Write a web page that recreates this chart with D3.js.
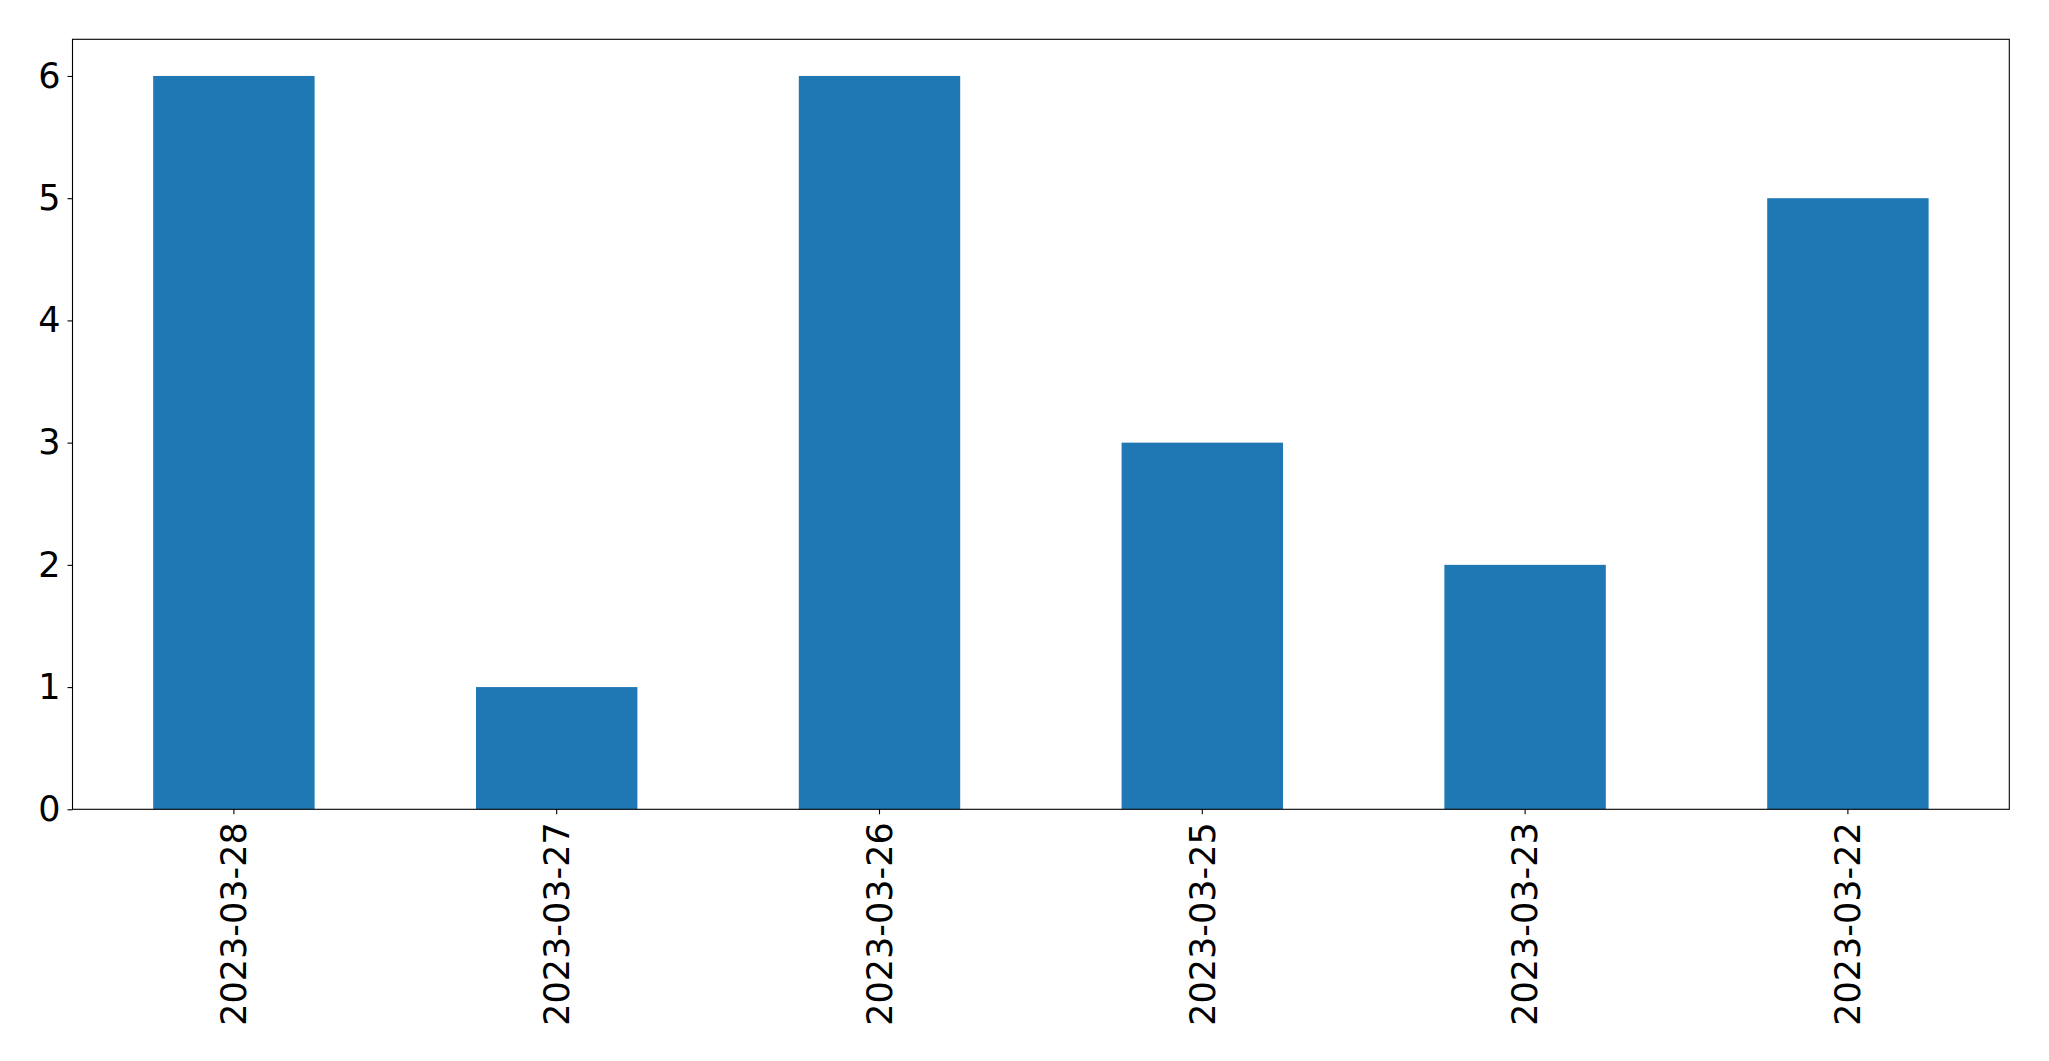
<!DOCTYPE html>
<html>
<head>
<meta charset="utf-8">
<script src="https://cdn.jsdelivr.net/npm/d3@7"></script>
<style>
html,body{margin:0;padding:0;background:#fff;}
svg{display:block;}
</style>
</head>
<body>
<svg id="chart" width="2049" height="1061"></svg>
<script>
const categories = ["2023-03-28","2023-03-27","2023-03-26","2023-03-25","2023-03-23","2023-03-22"];
const values = [6,1,6,3,2,5];
const yTicks = [0,1,2,3,4,5,6];

const margin = {left:72.5, top:39.3, right:2049-2009.3, bottom:1061-809.3};
const W = 2049, H = 1061;
const svg = d3.select("#chart");
const x = d3.scaleBand().domain(categories).range([margin.left, W-margin.right]).paddingInner(0.5).paddingOuter(0.25);
const y = d3.scaleLinear().domain([0, 6.3]).range([H-margin.bottom, margin.top]);

svg.append("g").selectAll("rect").data(values).join("rect")
  .attr("x",(d,i)=>x(categories[i]))
  .attr("width",x.bandwidth())
  .attr("y",d=>y(d))
  .attr("height",d=>y(0)-y(d))
  .attr("fill","#1f77b4");

const font = "DejaVu Sans";
const fs = 35;

const xAxis = svg.append("g").attr("transform",`translate(0,${H-margin.bottom})`)
  .call(d3.axisBottom(x).tickSize(5).tickPadding(5).tickSizeOuter(0));
xAxis.select(".domain").remove();
xAxis.selectAll("text")
  .attr("font-family",font).attr("font-size",fs).attr("fill","#000")
  .attr("transform","rotate(-90)")
  .attr("text-anchor","end")
  .attr("dy","0.35em")
  .attr("x",-13).attr("y",0);
xAxis.selectAll("line").attr("stroke","#000").attr("stroke-width",1.1);

const yAxis = svg.append("g").attr("transform",`translate(${margin.left},0)`)
  .call(d3.axisLeft(y).tickValues(yTicks).tickFormat(d3.format("d")).tickSize(5).tickPadding(7).tickSizeOuter(0));
yAxis.select(".domain").remove();
yAxis.selectAll("text").attr("font-family",font).attr("font-size",fs).attr("fill","#000");
yAxis.selectAll("line").attr("stroke","#000").attr("stroke-width",1.1);

svg.append("rect")
  .attr("x",margin.left).attr("y",margin.top)
  .attr("width",W-margin.right-margin.left).attr("height",H-margin.bottom-margin.top)
  .attr("fill","none").attr("stroke","#000").attr("stroke-width",1.1);
</script>
</body>
</html>
